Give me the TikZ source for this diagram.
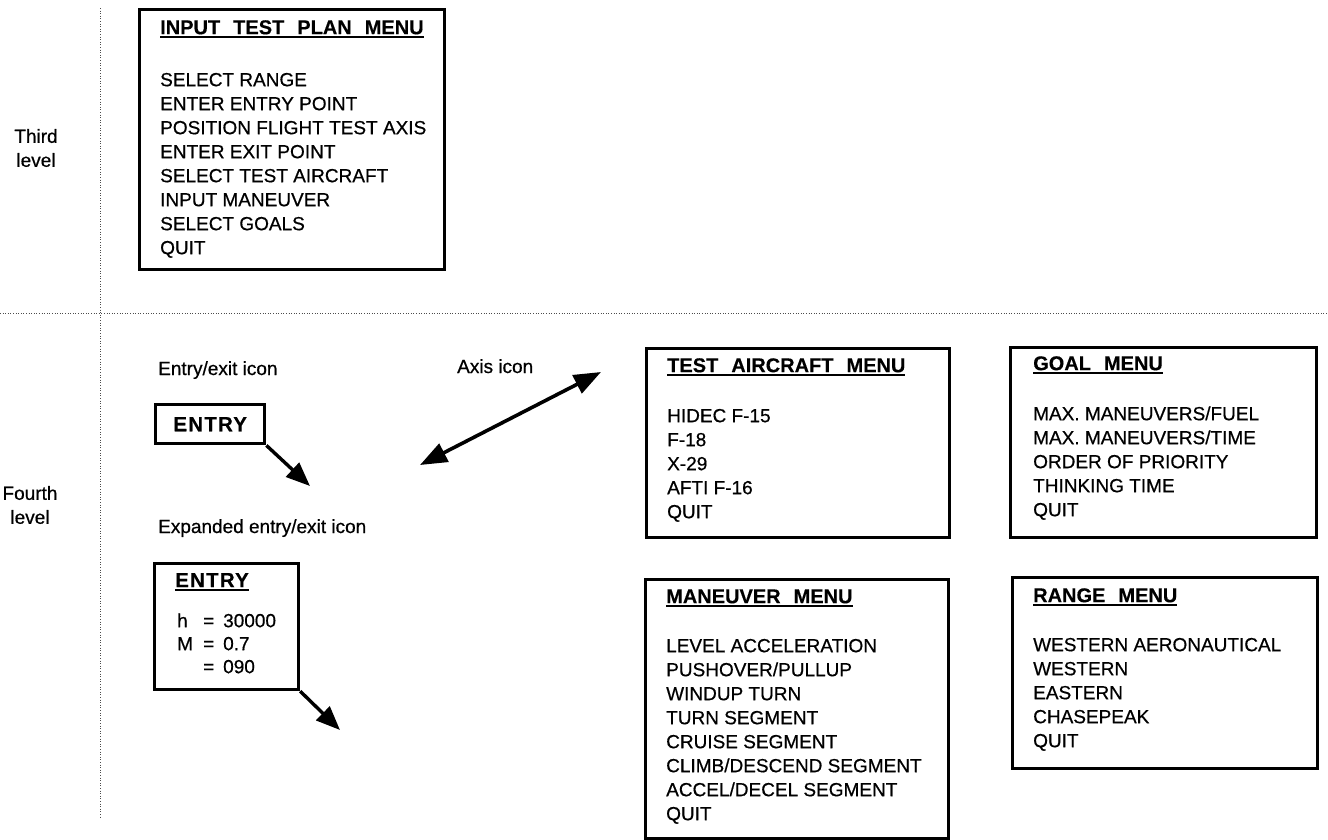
\documentclass[tikz,border=0pt]{standalone}
\usepackage{fontspec}
\setmainfont{Liberation Sans}[FakeBold=0.6, BoldFeatures={FakeBold=0.3}]
\usetikzlibrary{arrows.meta}
\newsavebox\ulbox
\newcommand{\ulin}[1]{\sbox\ulbox{#1}\rlap{\rule[-3.5pt]{\wd\ulbox}{1.8pt}}\usebox\ulbox}
\newcommand{\tg}{\hspace{13pt}}
\newcommand{\cstrut}{\rule{0pt}{15pt}}
\newcommand{\bodyfont}{\fontsize{19}{24}\selectfont}
\newcommand{\ttlfont}{\fontsize{20}{24}\selectfont\bfseries}
\newcommand{\entfont}{\fontsize{20.5}{24}\selectfont\bfseries\addfontfeatures{LetterSpace=6}}
\begin{document}
\begin{tikzpicture}[x=1pt,y=-1pt,
  menubox/.style={draw, line width=3.2pt, inner sep=0, anchor=north west},
  menutext/.style={anchor=north west, inner sep=0, align=left, font=\bodyfont},
  lbl/.style={inner sep=0, font=\bodyfont},
  dotline/.style={line width=1pt, black!70, dash pattern=on 1pt off 1.6pt},
  iconarrow/.style={line width=3.4pt, -{Triangle[length=24pt,width=19pt]}},
  axisarrow/.style={line width=3.6pt, {Triangle[length=27pt,width=20pt]}-{Triangle[length=27pt,width=20pt]}}
]
\useasboundingbox (0,0) rectangle (1328,839);
% separators
\draw[dotline] (100,8) -- (100,818);
\draw[dotline] (0,313) -- (1328,313);
% level labels
\node[lbl, align=center] (third) at (36,148) {Third\\level};
\node[lbl, align=center] (fourth) at (30,505) {Fourth\\level};
% third level menu
\node[menubox, minimum width=305pt, minimum height=260pt] (itp) at (138,8) {};
\node[menutext] (itpt) at (160,19) {{\ttlfont\cstrut\ulin{INPUT\tg TEST\tg PLAN\tg MENU}}\\[28pt]
SELECT RANGE\\ENTER ENTRY POINT\\POSITION FLIGHT TEST AXIS\\ENTER EXIT POINT\\SELECT TEST AIRCRAFT\\INPUT MANEUVER\\SELECT GOALS\\QUIT};
% icons
\node[lbl, anchor=base west] (lent) at (158,375) {Entry/exit icon};
\node[lbl, anchor=base west] (lax) at (457,373) {Axis icon};
\node[lbl, anchor=base west] (lexp) at (158,533) {Expanded entry/exit icon};
\node[draw, line width=3.4pt, inner sep=0, minimum width=109pt, minimum height=39pt, anchor=north west, font=\entfont] (ent) at (154,403) {ENTRY};
\coordinate (entend) at (310,486);
\draw[iconarrow] (ent.south east) -- (entend);
\node[menubox, minimum width=144pt, minimum height=126pt] (exp) at (153,562) {};
\node[menutext, font=\fontsize{19}{23}\selectfont] (expt) at (175,572) {{\entfont\cstrut\ulin{ENTRY}}\\[17pt]
\hspace{2pt}\makebox[26pt][l]{h}\makebox[20pt][l]{=}30000\\
\hspace{2pt}\makebox[26pt][l]{M}\makebox[20pt][l]{=}0.7\\
\hspace{2pt}\makebox[26pt][l]{}\makebox[20pt][l]{=}090};
\coordinate (expend) at (340,730);
\draw[iconarrow] (exp.south east) -- (expend);
\coordinate (axa) at (420,465);
\coordinate (axb) at (601,372);
\draw[axisarrow] (axa) -- (axb);
% fourth level menus
\node[menubox, minimum width=303pt, minimum height=189pt] (ta) at (645,347) {};
\node[menutext] (tat) at (667,357) {{\ttlfont\cstrut\ulin{TEST\tg AIRCRAFT\tg MENU}}\\[26pt]
HIDEC F-15\\F-18\\X-29\\AFTI F-16\\QUIT};
\node[menubox, minimum width=306pt, minimum height=190pt] (goal) at (1009,346) {};
\node[menutext] (goalt) at (1033,355) {{\ttlfont\cstrut\ulin{GOAL\tg MENU}}\\[26pt]
MAX. MANEUVERS/FUEL\\MAX. MANEUVERS/TIME\\ORDER OF PRIORITY\\THINKING TIME\\QUIT};
\node[menubox, minimum width=303pt, minimum height=259pt] (man) at (644,578) {};
\node[menutext] (mant) at (666,588) {{\ttlfont\cstrut\ulin{MANEUVER\tg MENU}}\\[25pt]
LEVEL ACCELERATION\\PUSHOVER/PULLUP\\WINDUP TURN\\TURN SEGMENT\\CRUISE SEGMENT\\CLIMB/DESCEND SEGMENT\\ACCEL/DECEL SEGMENT\\QUIT};
\node[menubox, minimum width=305pt, minimum height=191pt] (rng) at (1011,576) {};
\node[menutext] (rngt) at (1033,587) {{\ttlfont\cstrut\ulin{RANGE\tg MENU}}\\[25pt]
WESTERN AERONAUTICAL\\WESTERN\\EASTERN\\CHASEPEAK\\QUIT};
\end{tikzpicture}
\end{document}
